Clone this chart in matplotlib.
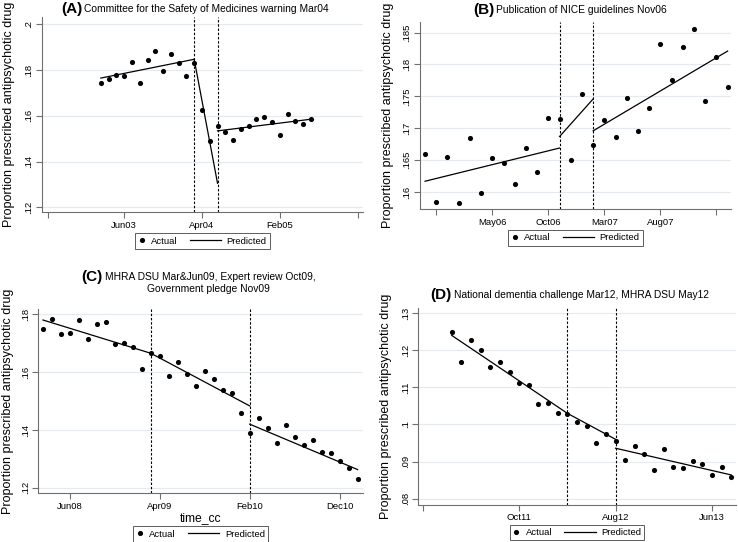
import matplotlib
matplotlib.use('Agg')
import matplotlib.pyplot as plt
from matplotlib.lines import Line2D
from matplotlib.legend_handler import HandlerLine2D

plt.rcParams['font.family'] = ['Liberation Sans', 'DejaVu Sans']

# (A) months relative to Jun03
a_months = list(range(-3, 25))
a_actual = [.1742, .1760, .1778, .1776, .1837, .1742, .1843, .1882, .1796, .1870,
            .1829, .1776, .1829, .1626, .1491, .1557, .1529, .1494, .1542, .1557,
            .1585, .1593, .1574, .1516, .1607, .1576, .1563, .1585]
a_pred_x = [[-3, 9], [9, 12], [12, 24]]
a_pred_y = [[.1765, .1847], [.1847, .1305], [.1534, .1585]]
a_breaks = [9, 12]
a_xticks = [-9.75, 0, 10, 20, 30]
a_xlabels = ['', 'Jun03', 'Apr04', 'Feb05', '']
a_yticks = [.12, .14, .16, .18, .2]

# (B) months relative to May06
b_months = list(range(-6, 22))
b_actual = [.1660, .1584, .1655, .1583, .1684, .1599, .1653, .1645, .1613, .1669,
            .1631, .1716, .1715, .1651, .1754, .1674, .1713, .1687, .1747, .1696,
            .1731, .1832, .1775, .1828, .1856, .1743, .1812, .1764]
b_pred_x = [[-6, 6], [6, 9], [9, 21]]
b_pred_y = [[.1617, .1669], [.1687, .1746], [.1696, .1821]]
b_breaks = [6, 9]
b_xticks = [-5, 0, 5, 10, 15, 20]
b_xlabels = ['', 'May06', 'Oct06', 'Mar07', 'Aug07', '']
b_yticks = [.16, .165, .17, .175, .18, .185]

# (C) months relative to Jun08
c_months = list(range(-3, 33))
c_actual = [.1748, .1784, .1731, .1735, .1779, .1715, .1765, .1772, .1697, .1700,
            .1688, .1612, .1665, .1657, .1585, .1635, .1595, .1553, .1605, .1576,
            .1538, .1529, .1457, .1390, .1440, .1406, .1356, .1417, .1374, .1348,
            .1364, .1325, .1319, .1292, .1270, .1229]
c_pred_x = [[-3, 9], [9, 20], [20, 32]]
c_pred_y = [[.1780, .1665], [.1665, .1483], [.1420, .1263]]
c_breaks = [9, 20]
c_xticks = [0, 10, 20, 30]
c_xlabels = ['Jun08', 'Apr09', 'Feb10', 'Dec10']
c_yticks = [.12, .14, .16, .18]

# (D) months relative to Oct11
d_months = list(range(-7, 23))
d_actual = [.1250, .1169, .1228, .1201, .1156, .1169, .1142, .1111, .1107, .1055,
            .1059, .1032, .1027, .1006, .0997, .0950, .0974, .0956, .0904, .0941,
            .0920, .0878, .0935, .0885, .0883, .0902, .0894, .0865, .0885, .0858]
d_pred_x = [[-7, 5], [5, 10], [10, 22]]
d_pred_y = [[.1240, .1030], [.1030, .0960], [.0936, .0864]]
d_breaks = [5, 10]
d_xticks = [-10, 0, 10, 20]
d_xlabels = ['', 'Oct11', 'Aug12', 'Jun13']
d_yticks = [.08, .09, .1, .11, .12, .13]

W, H = 738, 542
GREY = '#6f6f6f'


class ShortHandle(HandlerLine2D):
    def legend_artist(self, legend, orig_handle, fontsize, handlebox):
        handlebox.width = 0.75 * fontsize
        return super().legend_artist(legend, orig_handle, fontsize, handlebox)


def fmt(v):
    s = '%g' % v
    return s[1:] if s.startswith('0') else s


def panel(fig, box, months, actual, pred_x, pred_y, breaks, xticks, xlabels,
          yticks, xlim, ylim, leg_y, ylab_x):
    l, r, t, b = box
    ax = fig.add_axes([l / W, 1 - b / H, (r - l) / W, (b - t) / H])
    ax.set_axisbelow(True)
    ax.yaxis.grid(True, color='#e4eaee', lw=0.8)
    for bx in breaks:
        ax.axvline(bx, color='k', ls=(0, (2.2, 1.6)), lw=0.8)
    for px, py in zip(pred_x, pred_y):
        ax.plot(px, py, color='k', lw=0.9)
    ax.plot(months, actual, 'o', color='k', ms=3.7, mew=0)
    ax.set_xlim(*xlim)
    ax.set_ylim(*ylim)
    ax.set_xticks(xticks)
    ax.set_xticklabels(xlabels)
    ax.set_yticks(yticks)
    ax.set_yticklabels([fmt(v) for v in yticks])
    for s in ['top', 'right']:
        ax.spines[s].set_visible(False)
    for s in ['left', 'bottom']:
        ax.spines[s].set_color(GREY)
        ax.spines[s].set_linewidth(0.8)
    ax.tick_params(colors=GREY, labelcolor='k', length=4, width=0.8, labelsize=6.8, pad=2)
    ax.tick_params(axis='y', labelrotation=90)
    for lbl in ax.get_yticklabels():
        lbl.set_va('center')
    handles = [Line2D([], [], ls='none', marker='o', color='k', ms=3.7, mew=0),
               Line2D([], [], color='k', lw=0.9)]
    leg = ax.legend(handles, ['Actual', 'Predicted'], ncol=2, loc='upper center',
                    bbox_to_anchor=(0.5, leg_y), fontsize=6.8, frameon=True,
                    fancybox=False, handlelength=3.3, handletextpad=0.6,
                    columnspacing=1.3, borderpad=0.35, borderaxespad=0,
                    handler_map={handles[0]: ShortHandle()})
    leg.get_frame().set_edgecolor('#333333')
    leg.get_frame().set_linewidth(0.7)
    fig.text(ylab_x / W, 1 - (t + b) / 2 / H, 'Proportion prescribed antipsychotic drug',
             rotation=90, ha='center', va='center', fontsize=9)
    return ax


fig = plt.figure(figsize=(W / 100, H / 100), dpi=100)

panel(fig, (41.7, 363, 17, 212.3), a_months, a_actual, a_pred_x, a_pred_y, a_breaks,
      a_xticks, a_xlabels, a_yticks, (-10.6, 30.7), (.1178, .2032), -0.108, 9)
panel(fig, (419.7, 731, 21.7, 209.3), b_months, b_actual, b_pred_x, b_pred_y, b_breaks,
      b_xticks, b_xlabels, b_yticks, (-6.48, 21.3), (.1573, .1867), -0.11, 388)
axc = panel(fig, (38.3, 363, 309.3, 493.3), c_months, c_actual, c_pred_x, c_pred_y, c_breaks,
            c_xticks, c_xlabels, c_yticks, (-3.52, 32.6), (.1181, .1817), -0.18, 8)
panel(fig, (418, 736, 308.3, 505), d_months, d_actual, d_pred_x, d_pred_y, d_breaks,
      d_xticks, d_xlabels, d_yticks, (-10.5, 22.5), (.0783, .1313), -0.1, 386)
axc.set_xlabel('time_cc', fontsize=8.7, labelpad=1)


def title(x, y, tag, rest):
    fig.text(x / W, 1 - y / H, tag, fontsize=11, fontweight='bold', ha='right', va='center')
    fig.text((x + 2.5) / W, 1 - y / H, rest, fontsize=7.4, ha='left', va='center')


title(82, 8.5, '(A)', 'Committee for the Safety of Medicines warning Mar04')
title(494, 10, '(B)', 'Publication of NICE guidelines Nov06')
title(102.7, 277, '(C)', 'MHRA DSU Mar&Jun09, Expert review Oct09,')
fig.text(208 / W, 1 - 289.5 / H, 'Government pledge Nov09', fontsize=7.4, ha='center', va='center')
title(451.3, 295, '(D)', 'National dementia challenge Mar12, MHRA DSU May12')

fig.savefig('out.png', dpi=100)
